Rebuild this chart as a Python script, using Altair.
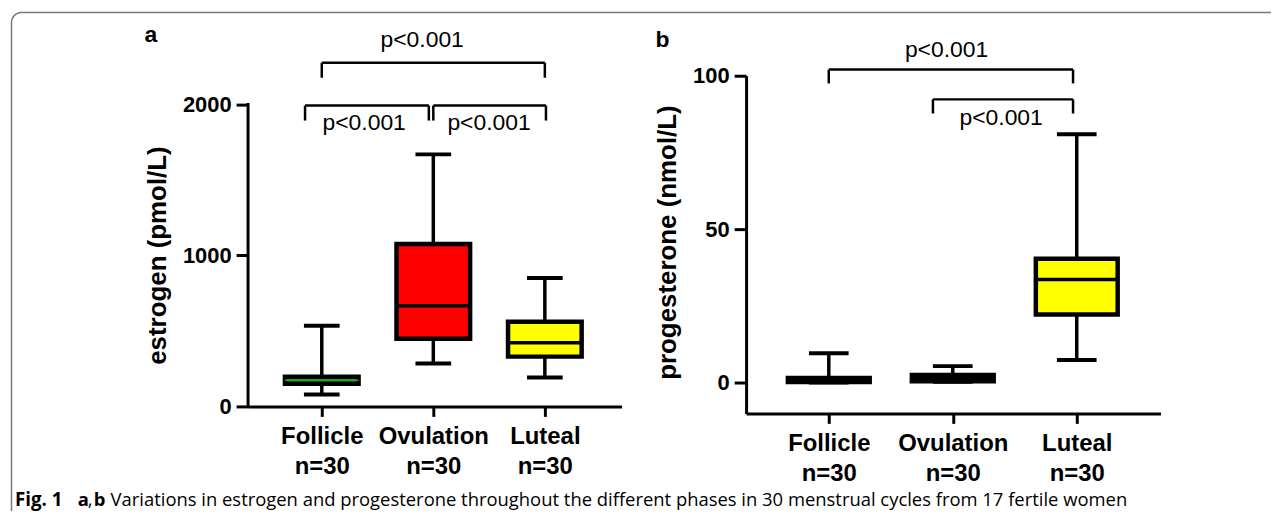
import math
import altair as alt
import pandas as pd

# ---------------- data ----------------
phases = ["Follicle", "Ovulation", "Luteal"]
n_labels = ["n=30", "n=30", "n=30"]
pos = [0, 1, 2]

est_min = [79, 284, 191]
est_q1 = [150, 449, 330]
est_med = [173, 667, 422]
est_q3 = [196, 1076, 561]
est_max = [535, 1670, 851]

pro_min = [0.1, 0.3, 7.4]
pro_q1 = [0.2, 0.5, 22.2]
pro_med = [0.8, 1.5, 33.6]
pro_q3 = [1.5, 2.5, 40.4]
pro_max = [9.6, 5.4, 80.9]

est_ticks = [0, 1000, 2000]
pro_ticks = [0, 50, 100]

# significance brackets (x from, x to, bar level, leg end)
est_br_x1 = [0.0, -0.15, 1.0]
est_br_x2 = [2.0, 0.96, 2.01]
est_br_y = [2277, 1993, 1993]
est_br_leg = [2178, 1894, 1894]
est_p_x = [0.9, 0.38, 1.5]
est_p_y = [2429, 1875, 1875]
est_p_text = ["p<0.001", "p<0.001", "p<0.001"]

pro_br_x1 = [0.0, 0.84]
pro_br_x2 = [1.97, 1.97]
pro_br_y = [102.0, 92.3]
pro_br_leg = [97.5, 87.7]
pro_p_x = [0.95, 1.39]
pro_p_y = [108.5, 86.1]
pro_p_text = ["p<0.001", "p<0.001"]

caption_rest = ("Variations in estrogen and progesterone throughout the different "
                "phases in 30 menstrual cycles from 17 fertile women")

# ---------------- style ----------------
FONT = "Liberation Sans"
BOX_HALF = 0.33
CAP_HALF = 0.16
fill_colors = ["#1fa51f", "#ff0000", "#ffff00"]


def box_df(mn, q1, md, q3, mx):
    return pd.DataFrame({
        "phase": phases, "pos": pos, "min": mn, "q1": q1, "med": md,
        "q3": q3, "max": mx,
        "left": [p - BOX_HALF for p in pos], "right": [p + BOX_HALF for p in pos],
        "cl": [p - CAP_HALF for p in pos], "cr": [p + CAP_HALF for p in pos],
    })


def bracket_df(x1, x2, y, leg):
    rows = []
    for a, b, c, d in zip(x1, x2, y, leg):
        rows.append({"xa": a, "xb": b, "ya": c, "yb": c})
        rows.append({"xa": a, "xb": a, "ya": c, "yb": d})
        rows.append({"xa": b, "xb": b, "ya": c, "yb": d})
    return pd.DataFrame(rows)


label_expr = "[" + ",".join(
    "['%s','%s']" % (p, n) for p, n in zip(phases, n_labels)) + "][datum.value]"


def panel(df, br, ptxt, xdom, ydom, yticks, ytitle, title_x, title_y,
          width, height, native_ydomain, thin_green_median):
    xs = alt.Scale(domain=xdom, nice=False, zero=False)
    ys = alt.Scale(domain=ydom, nice=False, zero=False)
    xaxis = alt.Axis(values=pos, labelExpr=label_expr, title=None, grid=False,
                     domainWidth=3, domainColor="black", tickWidth=3,
                     tickColor="black", tickSize=10, labelFont=FONT,
                     labelFontWeight="bold", labelFontSize=24,
                     labelColor="black", labelPadding=8, labelLineHeight=30,
                     labelOverlap=False, labelFlush=False)
    yaxis = alt.Axis(values=yticks, format="d", title=ytitle, grid=False,
                     domain=native_ydomain, domainWidth=3, domainColor="black",
                     tickWidth=3, tickColor="black", tickSize=12,
                     labelFont=FONT, labelFontWeight="bold", labelFontSize=22,
                     labelColor="black", labelPadding=5,
                     titleFont=FONT, titleFontWeight="bold", titleFontSize=26,
                     titleColor="black", titleX=title_x, titleY=title_y,
                     titleAngle=270, titleAlign="center",
                     titleBaseline="middle")
    base = alt.Chart(df)
    whisk = base.mark_rule(color="black", strokeWidth=3.5).encode(
        x=alt.X("pos:Q", scale=xs, axis=xaxis),
        y=alt.Y("min:Q", scale=ys, axis=yaxis), y2="max:Q")
    cap_lo = base.mark_rule(color="black", strokeWidth=4).encode(
        x="cl:Q", x2="cr:Q", y="min:Q")
    cap_hi = base.mark_rule(color="black", strokeWidth=4).encode(
        x="cl:Q", x2="cr:Q", y="max:Q")
    box = base.mark_rect(stroke="black", strokeWidth=4.5).encode(
        x="left:Q", x2="right:Q", y="q1:Q", y2="q3:Q",
        fill=alt.Fill("phase:N", scale=alt.Scale(domain=phases,
                                                 range=fill_colors),
                      legend=None))
    is_first = "datum.phase == '%s'" % phases[0]
    if thin_green_median:
        med = base.mark_rule().encode(
            x="left:Q", x2="right:Q", y="med:Q",
            color=alt.condition(is_first, alt.value(fill_colors[0]),
                                alt.value("black")),
            strokeWidth=alt.condition(is_first, alt.value(1.5),
                                      alt.value(3.5)))
    else:
        med = base.mark_rule(color="black", strokeWidth=3.5).encode(
            x="left:Q", x2="right:Q", y="med:Q")
    brk = alt.Chart(br).mark_rule(color="black", strokeWidth=2.5).encode(
        x="xa:Q", x2="xb:Q", y="ya:Q", y2="yb:Q")
    ptext = alt.Chart(ptxt).mark_text(font=FONT, fontSize=23, color="black",
                                      baseline="middle", align="center").encode(
        x="px:Q", y="py:Q", text="t:N")
    layers = [whisk, cap_lo, cap_hi, box, med, brk, ptext]
    if not native_ydomain:
        ax = alt.Chart(pd.DataFrame({"lo": [min(yticks)], "hi": [max(yticks)]})
                       ).mark_rule(color="black", strokeWidth=3,
                                   strokeCap="square").encode(
            x=alt.value(0), y="lo:Q", y2="hi:Q")
        layers.insert(0, ax)
    return layers, width, height


# ---------------- panel a ----------------
est = box_df(est_min, est_q1, est_med, est_q3, est_max)
est_br = bracket_df(est_br_x1, est_br_x2, est_br_y, est_br_leg)
est_pt = pd.DataFrame({"px": est_p_x, "py": est_p_y, "t": est_p_text})
layers_a, wa, ha = panel(est, est_br, est_pt, [-0.661, 2.688], [0, 2191],
                         est_ticks, "estrogen (pmol/L)", -91, 180, 375, 332,
                         False, True)

# frame (decoration): left + top edges with rounded corner, in pixels
fx, fy, r = -237.5, -63.5, 10
frame_pts = [(fx, 437)]
for k in range(0, 7):
    ang = math.radians(90 * k / 6)
    frame_pts.append((fx + r - r * math.cos(ang), fy + r - r * math.sin(ang)))
frame_pts.append((1027, fy))
frame = pd.DataFrame({"fxp": [p[0] for p in frame_pts],
                      "fyp": [p[1] for p in frame_pts],
                      "o": list(range(len(frame_pts)))})
frame_layer = alt.Chart(frame).mark_line(color="#7a7a7a", strokeWidth=1.5).encode(
    x=alt.X("fxp:Q", scale=None, axis=None),
    y=alt.Y("fyp:Q", scale=None, axis=None), order="o:Q")


def txt(s, x, y, size, weight, font=FONT, align="left"):
    return alt.Chart(pd.DataFrame({"t": [s]})).mark_text(
        font=font, fontSize=size, fontWeight=weight, color="black",
        align=align, baseline="middle").encode(
        x=alt.value(x), y=alt.value(y), text="t:N")


CAPF = "Open Sans"
CAPS = 18.5
cap_y = 426
deco_a = [
    txt("a", -104, -41, 23, "bold"),
    txt("Fig. 1", -234, cap_y, CAPS + 0.3, "bold", CAPF),
    txt("a", -171, cap_y, CAPS, "bold", CAPF),
    txt(",", -161, cap_y, CAPS, "normal", CAPF),
    txt("b", -155, cap_y, CAPS, "bold", CAPF),
    txt(caption_rest, -138, cap_y, CAPS, "normal", CAPF),
]

chart_a = alt.layer(*(layers_a + [frame_layer] + deco_a)).properties(
    width=wa, height=ha)

# ---------------- panel b ----------------
pro = box_df(pro_min, pro_q1, pro_med, pro_q3, pro_max)
pro_br = bracket_df(pro_br_x1, pro_br_x2, pro_br_y, pro_br_leg)
pro_pt = pd.DataFrame({"px": pro_p_x, "py": pro_p_y, "t": pro_p_text})
layers_b, wb, hb = panel(pro, pro_br, pro_pt, [-0.667, 2.675], [-10, 100],
                         pro_ticks, "progesterone (nmol/L)", -79, 167, 416, 339,
                         True, False)
chart_b = alt.layer(*(layers_b + [txt("b", -91, -36, 23, "bold")])).properties(
    width=wb, height=hb)

chart = alt.hconcat(chart_a, chart_b, spacing=125, bounds="flush").properties(
    padding=0).configure_view(stroke=None).resolve_scale(
    color="independent", fill="independent")

chart.save("out.html", embed_options={"renderer": "svg", "actions": False})
